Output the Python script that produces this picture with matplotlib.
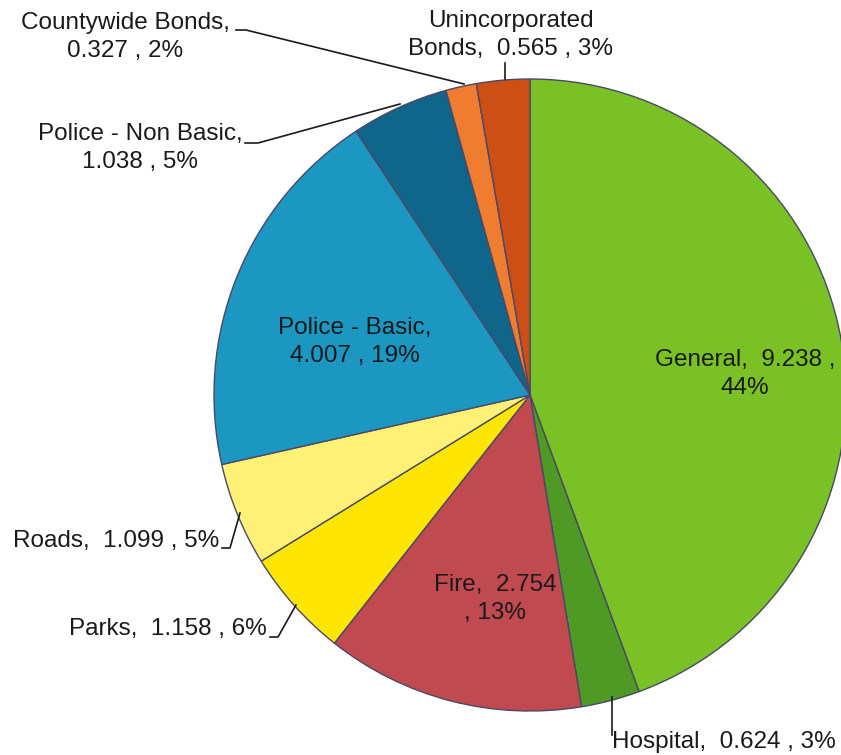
import matplotlib.pyplot as plt

plt.rcParams['font.family'] = ['Liberation Sans', 'DejaVu Sans']

# slices, clockwise from 12 o'clock
names = ['General', 'Hospital', 'Fire', 'Parks', 'Roads', 'Police - Basic',
         'Police - Non Basic', 'Countywide Bonds', 'Unincorporated Bonds']
values = [9.238, 0.624, 2.754, 1.158, 1.099, 4.007, 1.038, 0.327, 0.565]
percents = ['44%', '3%', '13%', '6%', '5%', '19%', '5%', '2%', '3%']
colors = ['#7AC125', '#4F9A25', '#C04A4F', '#FFE600', '#FFF175', '#1C97C2',
          '#10658A', '#F07C2F', '#CC4F15']

W, H = 841, 755
fig = plt.figure(figsize=(W / 100, H / 100), dpi=100)
ax = fig.add_axes([0, 0, 1, 1])

cx, cy, R = 530, 395, 316

ax.pie(values, colors=colors, startangle=90, counterclock=False,
       center=(cx, H - cy), radius=R, frame=True,
       wedgeprops=dict(edgecolor='#4A4868', linewidth=1.0))

ax.set_xlim(0, W)
ax.set_ylim(0, H)
ax.set_aspect('equal')
ax.axis('off')

fs = 17.5
tc = '#1A1A1A'


def put(x, y, s, ha='center'):
    # y given in image pixels from the top
    ax.text(x, H - y, s, fontsize=fs, color=tc, ha=ha, va='center',
            multialignment='center', linespacing=1.35)


def leader(xs, ys):
    ax.plot(xs, [H - v for v in ys], color='#1A1A1A', lw=1.2)


lab = ['%s,  %.3f , %s' % (n, v, p) for n, v, p in zip(names, values, percents)]

put(745, 374, 'General,  %.3f ,\n%s' % (values[0], percents[0]))
put(612, 742, lab[1], ha='left')
put(495, 599, 'Fire,  %.3f\n, %s' % (values[2], percents[2]))
put(267, 629, lab[3], ha='right')
put(219, 541, lab[4], ha='right')
put(355, 342, '%s,\n%.3f , %s' % (names[5], values[5], percents[5]))
put(140, 148, '%s,\n%.3f , %s' % (names[6], values[6], percents[6]))
put(125, 37, '%s,\n%.3f , %s' % (names[7], values[7], percents[7]))
put(511, 35, 'Unincorporated\nBonds,  %.3f , %s' % (values[8], percents[8]))

# leader lines
leader([612, 612], [735, 697])
leader([270, 278, 296], [637, 637, 605])
leader([222, 230, 240], [548, 548, 513])
leader([245, 258, 400], [143, 143, 104])
leader([236, 246, 464], [30, 30, 84])
leader([505, 505], [63, 79])

fig.savefig('out.png', dpi=100, facecolor='white')
